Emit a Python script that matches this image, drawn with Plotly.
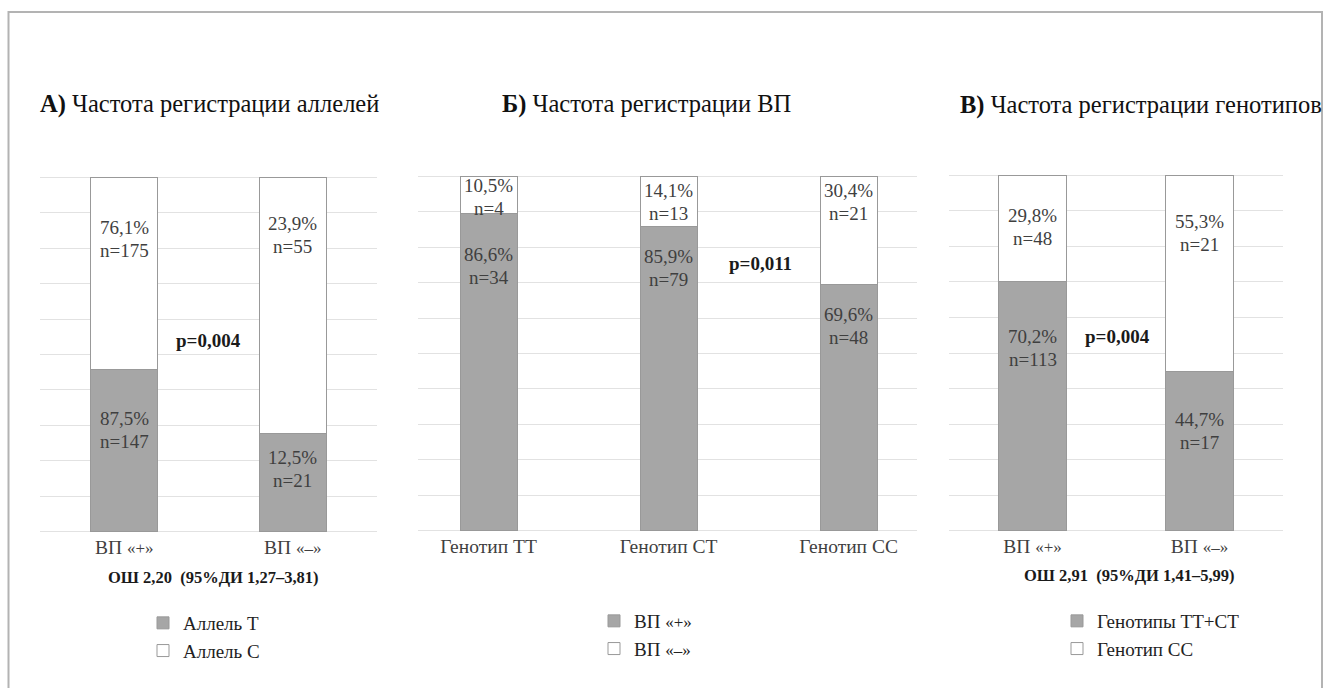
import plotly.graph_objects as go

W, H = 1323, 688

# ---- data -------------------------------------------------------------
cats_a = ["ВП «+»", "ВП «–»"]
allele_t_n = [147, 21]
allele_c_n = [175, 55]
allele_t_pct = ["87,5%", "12,5%"]
allele_c_pct = ["76,1%", "23,9%"]

cats_b = ["Генотип ТТ", "Генотип СТ", "Генотип СС"]
vp_pos_n = [34, 79, 48]
vp_neg_n = [4, 13, 21]
vp_pos_pct = ["86,6%", "85,9%", "69,6%"]
vp_neg_pct = ["10,5%", "14,1%", "30,4%"]

cats_c = ["ВП «+»", "ВП «–»"]
gen_ttct_n = [113, 17]
gen_cc_n = [48, 21]
gen_ttct_pct = ["70,2%", "44,7%"]
gen_cc_pct = ["29,8%", "55,3%"]

p_values = ["p=0,004", "p=0,011", "p=0,004"]
or_texts = ["ОШ 2,20  (95%ДИ 1,27–3,81)", "ОШ 2,91  (95%ДИ 1,41–5,99)"]
titles = [("А)", "Частота регистрации аллелей"),
          ("Б)", "Частота регистрации ВП"),
          ("В)", "Частота регистрации генотипов")]

# ---- style ------------------------------------------------------------
SERIF = "Liberation Serif"
GREY = "#a6a6a6"
EDGE = "#999999"
GRID = "#e2e2e2"
LABEL = "#3f3f3f"


def px_x(p):
    return p / W


def px_y(p):
    return 1 - p / H


def small_quotes(s, size):
    # render the «…» part of a label slightly smaller
    if "«" in s:
        head, tail = s.split("«", 1)
        return f'{head}<span style="font-size:{size}px">«{tail}</span>'
    return s


fig = go.Figure()

panels = [
    dict(ax="", leg="legend", cats=cats_a, low=allele_t_n, up=allele_c_n,
         low_pct=allele_t_pct, up_pct=allele_c_pct,
         names=("Аллель Т", "Аллель С"), width=0.4,
         off_low=[60, 35], off_up=[61.5, 58]),
    dict(ax="2", leg="legend2", cats=cats_b, low=vp_pos_n, up=vp_neg_n,
         low_pct=vp_pos_pct, up_pct=vp_neg_pct,
         names=("ВП «+»", "ВП «–»"), width=0.317,
         off_low=[53, 42, 42], off_up=[20.5, 26, 26]),
    dict(ax="3", leg="legend3", cats=cats_c, low=gen_ttct_n, up=gen_cc_n,
         low_pct=gen_ttct_pct, up_pct=gen_cc_pct,
         names=("Генотипы ТТ+СТ", "Генотип СС"), width=0.407,
         off_low=[66.5, 59], off_up=[52, 58]),
]

annotations = []
for k, pn in enumerate(panels):
    xs = list(range(len(pn["cats"])))
    xa, ya = "x" + pn["ax"], "y" + pn["ax"]
    for j, (vals, fill) in enumerate(((pn["low"], GREY), (pn["up"], "white"))):
        fig.add_trace(go.Bar(
            x=xs, y=vals, xaxis=xa, yaxis=ya, width=pn["width"],
            name=small_quotes(pn["names"][j], 17),
            legend=pn["leg"], legendgroup=f"g{k}{j}",
            marker=dict(color=fill, line=dict(color=EDGE, width=1)),
            hoverinfo="skip", showlegend=True,
        ))
    # value labels: share of each segment derived from the counts
    for i in xs:
        total = pn["low"][i] + pn["up"][i]
        low_top = 100 * pn["low"][i] / total
        for top, pct, n, off in ((low_top, pn["low_pct"][i], pn["low"][i], pn["off_low"][i]),
                                 (100, pn["up_pct"][i], pn["up"][i], pn["off_up"][i])):
            for line, dy in ((pct, -11.5), (f"n={n}", 11.5)):
                annotations.append(dict(
                    x=i, y=top, xref=xa, yref=ya, yshift=-(off + dy),
                    text=line, showarrow=False, yanchor="middle",
                    font=dict(family=SERIF, size=19, color=LABEL)))

# axis placement (pixel boxes of each plot area)
boxes = [((40, 377), (176, 533), [-0.5, 1.5]),
         ((418, 917), (175, 532), [-0.392, 2.38]),
         ((949, 1283), (174, 532), [-0.5, 1.5])]

layout = dict(
    width=W, height=H, margin=dict(l=0, r=0, t=0, b=0),
    paper_bgcolor="white", plot_bgcolor="white",
    barmode="stack", barnorm="percent", showlegend=True,
    font=dict(family=SERIF, color=LABEL),
)
for k, ((x0, x1), (y0, y1), xr) in enumerate(boxes):
    sfx = "" if k == 0 else str(k + 1)
    cats = panels[k]["cats"]
    layout["xaxis" + sfx] = dict(
        domain=[px_x(x0), px_x(x1)], range=xr, anchor="y" + sfx,
        tickvals=list(range(len(cats))),
        ticktext=[small_quotes(c, 17) for c in cats],
        tickfont=dict(family=SERIF, size=19.5, color=LABEL),
        showgrid=False, zeroline=False, showline=False, ticks="",
        fixedrange=True)
    # range padded a hair so the 0 and 100 grid lines are drawn too
    layout["yaxis" + sfx] = dict(
        domain=[px_y(y1), px_y(y0)], range=[-0.3, 100.3], anchor="x" + sfx,
        dtick=10, showticklabels=False, showgrid=True, gridcolor=GRID,
        gridwidth=1, zeroline=True, zerolinecolor=GRID, zerolinewidth=1,
        showline=False, ticks="", fixedrange=True)

# legends
legend_pos = [(143, 604), (594, 602), (1057, 602)]
for k, (lx, ly) in enumerate(legend_pos):
    key = "legend" if k == 0 else f"legend{k + 1}"
    layout[key] = dict(
        x=px_x(lx), y=px_y(ly), xanchor="left", yanchor="top",
        xref="paper", yref="paper", orientation="v",
        traceorder="grouped", tracegroupgap=0,
        bgcolor="rgba(0,0,0,0)",
        font=dict(family=SERIF, size=19, color="#222222"))

# titles
for (bold, rest), (tx, ty) in zip(titles, [(38, 104), (500, 104), (958, 105)]):
    annotations.append(dict(
        x=px_x(tx), y=px_y(ty), xref="paper", yref="paper",
        xanchor="left", yanchor="middle", showarrow=False,
        text=f"<b>{bold}</b> {rest}",
        font=dict(family=SERIF, size=24.5, color="#111111")))

# p-values
for txt, (px, py) in zip(p_values, [(208, 340), (760, 263), (1117, 336)]):
    annotations.append(dict(
        x=px_x(px), y=px_y(py), xref="paper", yref="paper",
        xanchor="center", yanchor="middle", showarrow=False,
        text=f"<b>{txt}</b>",
        font=dict(family=SERIF, size=19, color="#1a1a1a")))

# odds ratios
for txt, (px, py) in zip(or_texts, [(213, 577), (1129, 575)]):
    annotations.append(dict(
        x=px_x(px), y=px_y(py), xref="paper", yref="paper",
        xanchor="center", yanchor="middle", showarrow=False,
        text=f"<b>{txt}</b>",
        font=dict(family=SERIF, size=16.5, color="#1a1a1a")))

layout["annotations"] = annotations
layout["shapes"] = [dict(
    type="rect", xref="paper", yref="paper",
    x0=px_x(8.5), x1=px_x(1322), y0=-0.1, y1=px_y(12),
    line=dict(color="#b3b3b3", width=2), fillcolor="rgba(0,0,0,0)",
    layer="below")]

fig.update_layout(**layout)
fig.write_html("out.html")
